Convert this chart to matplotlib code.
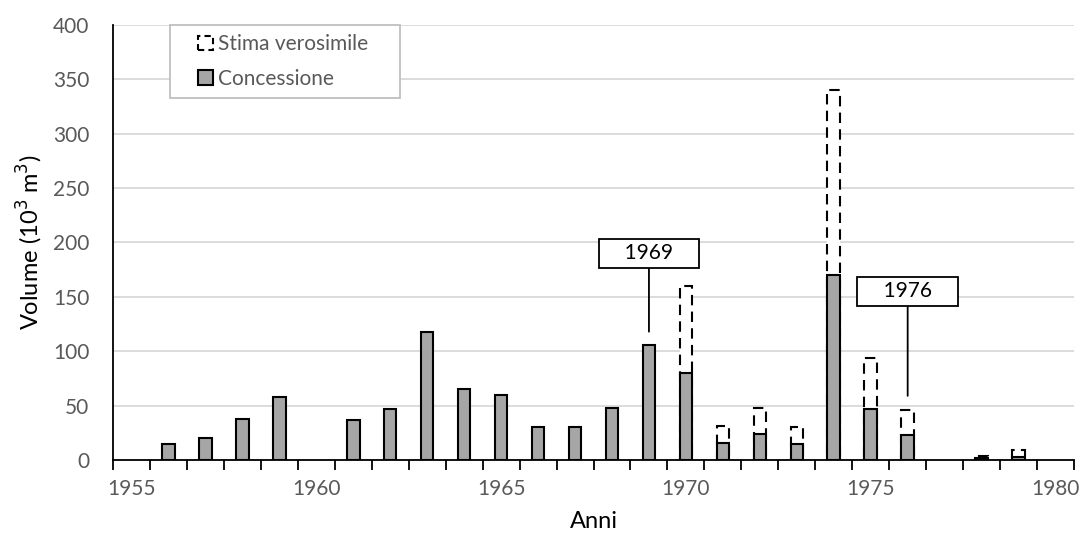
import matplotlib
matplotlib.use("Agg")
from matplotlib import pyplot as plt
from matplotlib.patches import Patch, Rectangle
from matplotlib.legend_handler import HandlerPatch

plt.rcParams['font.family'] = ['Lato', 'DejaVu Sans']

# dati (10^3 m3)
anni = [1956, 1957, 1958, 1959, 1961, 1962, 1963, 1964, 1965, 1966, 1967, 1968,
        1969, 1970, 1971, 1972, 1973, 1974, 1975, 1976, 1978, 1979]
concessione = [15, 20, 38, 58, 37, 47, 118, 65, 60, 30, 30, 48,
               106, 80, 16, 24, 15, 170, 47, 23, 2, 3]
stima = [0, 0, 0, 0, 0, 0, 0, 0, 0, 0, 0, 0,
         0, 160, 31, 48, 30, 340, 94, 46, 4, 9]

etichette = ['1969', '1976']
etichette_y = [118, 59]
etichette_testo_y = [190, 155]

fig = plt.figure(figsize=(10.83, 5.42), dpi=100)
ax = fig.add_axes([113/1083, 82/542, 961/1083, 435/542])

w = 0.34
stima_pos = [a for a, s in zip(anni, stima) if s > 0]
stima_val = [s for s in stima if s > 0]
ax.bar(stima_pos, stima_val, width=w, facecolor='white', edgecolor='black',
       linestyle=(0, (5, 3)), linewidth=1.5, zorder=2)
ax.bar(anni, concessione, width=w, facecolor='#a6a6a6', edgecolor='black',
       linewidth=1.5, zorder=3)

for lab, yv, yt in zip(etichette, etichette_y, etichette_testo_y):
    xb = int(lab)
    ax.annotate('    ' + lab + '    ', xy=(xb, yv), xytext=(xb, yt),
                ha='center', va='center', fontsize=15,
                bbox=dict(boxstyle='square,pad=0.22', fc='white', ec='black', lw=1.3),
                arrowprops=dict(arrowstyle='-', color='black', lw=1.3,
                                shrinkA=0, shrinkB=0),
                zorder=5)

# asse a categorie: tacche fra un anno e l'altro, etichette al centro
ax.set_xlim(1954.5, 1980.5)
ax.set_ylim(0, 400)
ax.set_yticks(range(0, 401, 50))
ax.set_xticks(range(1955, 1981, 5))
ax.set_xticks([a + 0.5 for a in range(1954, 1981)], minor=True)
ax.tick_params(axis='x', which='major', length=0, labelcolor='#595959',
               labelsize=15, pad=14)
ax.tick_params(axis='x', which='minor', direction='out', length=7, width=1.3,
               colors='black')
ax.tick_params(axis='y', length=0, labelcolor='#595959', labelsize=15, pad=17)
ax.grid(axis='y', color='#d9d9d9', linewidth=1.3, zorder=0)
ax.set_axisbelow(True)
for s in ['top', 'right']:
    ax.spines[s].set_visible(False)
ax.spines['left'].set_linewidth(1.3)
ax.spines['bottom'].set_linewidth(1.3)

ax.set_xlabel('Anni', fontsize=17, labelpad=8)
ax.set_ylabel('Volume (10$^3$ m$^3$)', fontsize=17, labelpad=6)


# quadratino della legenda spostato a destra nello spazio del simbolo
def quadrato(legend, orig_handle, xdescent, ydescent, width, height, fontsize):
    return Rectangle((-xdescent + width - height, -ydescent), height, height)


handles = [Patch(facecolor='white', edgecolor='black', linestyle=(0, (3, 2)), linewidth=1.5),
           Patch(facecolor='#a6a6a6', edgecolor='black', linewidth=1.5)]
leg = ax.legend(handles, ['Stima verosimile', 'Concessione'], loc='upper left',
                bbox_to_anchor=(57/961, 1.0, 230/961, 0), mode='expand',
                fontsize=15, fancybox=False,
                edgecolor='#bfbfbf', framealpha=1, handlelength=1.6, handleheight=0.7,
                handletextpad=0.25, borderpad=0.45, labelspacing=0.7, borderaxespad=0,
                handler_map={Patch: HandlerPatch(patch_func=quadrato)})
for t in leg.get_texts():
    t.set_color('#595959')
leg.get_frame().set_linewidth(1.3)

fig.savefig('out.png', dpi=100)
